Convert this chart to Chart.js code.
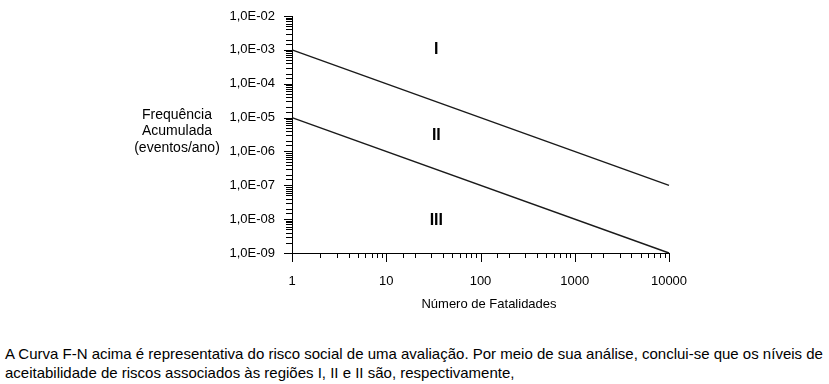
<!DOCTYPE html>
<html>
<head>
<meta charset="utf-8">
<script src="https://cdn.jsdelivr.net/npm/chart.js@4.4.1/dist/chart.umd.min.js"></script>
<style>
  html, body { margin: 0; padding: 0; background: #fff; }
  #wrap { position: relative; width: 829px; height: 384px; overflow: hidden; }
  #chartBox { position: absolute; left: 0; top: 0; width: 829px; height: 320px; }
  #para { position: absolute; left: 5px; top: 344px; font-family: "Liberation Sans", Arial, sans-serif; font-size: 15px; line-height: 19px; color: #000; white-space: nowrap; }
</style>
</head>
<body>
<div id="wrap">
  <div id="chartBox"><canvas id="c" width="829" height="320"></canvas></div>
  <div id="para">A Curva F-N acima é representativa do risco social de uma avaliação. Por meio de sua análise, conclui-se que os níveis de<br>aceitabilidade de riscos associados às regiões I, II e II são, respectivamente,</div>
</div>
<script>
// ---- data ----
const fatalities = [1, 10000];
const upperLimit = [1e-3, 1e-7];
const lowerLimit = [1e-5, 1e-9];
const xTickLabels = ['1', '10', '100', '1000', '10000'];
const xTickExponents = [0, 1, 2, 3, 4];
const yTickLabels = ['1,0E-02', '1,0E-03', '1,0E-04', '1,0E-05', '1,0E-06', '1,0E-07', '1,0E-08', '1,0E-09'];
const yTickExponents = [-2, -3, -4, -5, -6, -7, -8, -9];
const regionNames = ['I', 'II', 'III'];
const regionX = [34, 34, 34];
const regionY = [1e-3, 3.0e-6, 9e-9];
const yTitleLines = ['Frequência', 'Acumulada', '(eventos/ano)'];
const xTitle = 'Número de Fatalidades';

const FONT = '"Liberation Sans", Arial, sans-serif';
const INK = '#000';

function expOf(v) {
  const e = Math.log10(v);
  return Math.abs(e - Math.round(e)) < 1e-6 ? Math.round(e) : null;
}
function labelFor(v, exps, labels) {
  const e = expOf(v);
  if (e === null) return '';
  const i = exps.indexOf(e);
  return i >= 0 ? labels[i] : '';
}

const tickMarks = {
  id: 'tickMarks',
  afterDraw(chart) {
    const ctx = chart.ctx;
    const xs = chart.scales.x, ys = chart.scales.y;
    ctx.save();
    ctx.strokeStyle = '#000';
    ctx.lineWidth = 1;
    ctx.beginPath();
    xs.ticks.forEach(t => {
      const px = Math.round(xs.getPixelForValue(t.value)) + 0.5;
      const len = expOf(t.value) !== null ? 9 : 5;
      ctx.moveTo(px, xs.top);
      ctx.lineTo(px, xs.top + len);
    });
    ys.ticks.forEach(t => {
      const py = Math.round(ys.getPixelForValue(t.value)) + 0.5;
      const len = expOf(t.value) !== null ? 8 : 6;
      ctx.moveTo(ys.right, py);
      ctx.lineTo(ys.right - len, py);
    });
    ctx.stroke();
    // region labels
    ctx.fillStyle = INK;
    ctx.font = 'bold 16px ' + FONT;
    ctx.textAlign = 'center';
    ctx.textBaseline = 'middle';
    regionNames.forEach((n, i) => {
      ctx.fillText(n, xs.getPixelForValue(regionX[i]), ys.getPixelForValue(regionY[i]));
    });
    // y title (horizontal, three lines)
    ctx.font = '14px ' + FONT;
    yTitleLines.forEach((s, i) => {
      ctx.fillText(s, 177, 115 + i * 16.5);
    });
    // x title
    ctx.font = '13px ' + FONT;
    ctx.fillText(xTitle, 489, 304);
    ctx.restore();
  }
};

new Chart(document.getElementById('c'), {
  type: 'line',
  data: {
    datasets: [
      { data: fatalities.map((x, i) => ({ x, y: upperLimit[i] })), borderColor: '#1a1a1a', borderWidth: 1.4, pointRadius: 0, clip: 6 },
      { data: fatalities.map((x, i) => ({ x, y: lowerLimit[i] })), borderColor: '#1a1a1a', borderWidth: 1.4, pointRadius: 0, clip: 6 }
    ]
  },
  options: {
    responsive: false,
    animation: false,
    layout: { padding: { left: 0, right: 160, top: 16, bottom: 9 } },
    plugins: { legend: { display: false }, tooltip: { enabled: false } },
    scales: {
      x: {
        type: 'logarithmic',
        min: 1, max: 10000,
        grid: { display: false, drawTicks: false },
        border: { display: true, color: '#000', width: 1 },
        ticks: {
          autoSkip: false, maxRotation: 0, padding: 21, color: INK,
          font: { family: FONT, size: 13 },
          callback: (v) => labelFor(v, xTickExponents, xTickLabels)
        },
        title: { display: false },
        afterFit: (s) => { s.height = 58; s.paddingLeft = 0; s.paddingRight = 0; }
      },
      y: {
        type: 'logarithmic',
        min: 1e-9, max: 1e-2,
        grid: { display: false, drawTicks: false },
        border: { display: true, color: '#000', width: 1 },
        ticks: {
          autoSkip: false, padding: 17, color: INK,
          font: { family: FONT, size: 13 },
          callback: (v) => labelFor(v, yTickExponents, yTickLabels)
        },
        afterFit: (s) => { s.width = 292; s.paddingTop = 0; s.paddingBottom = 0; }
      }
    }
  },
  plugins: [tickMarks]
});
</script>
</body>
</html>
